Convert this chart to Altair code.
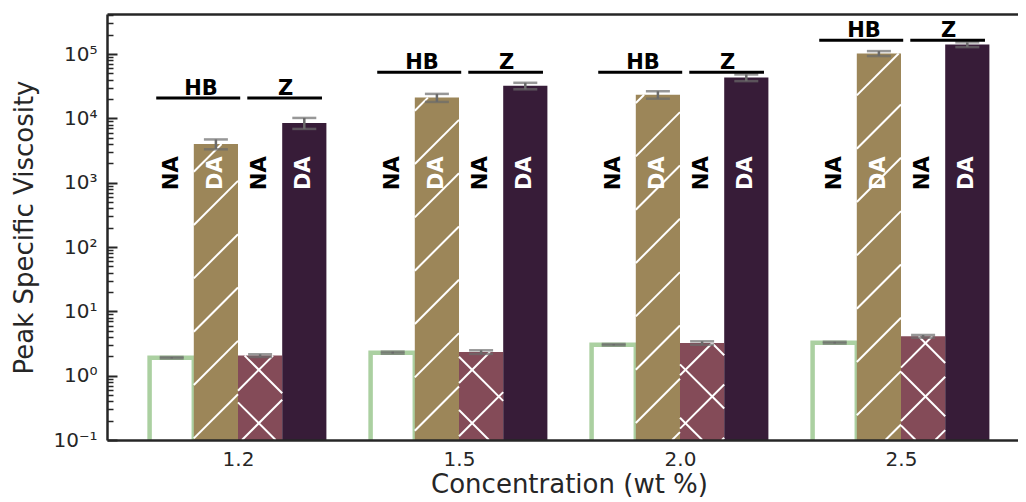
import json
import math
import numpy as np
import pandas as pd
import altair as alt

# ---------------- data ----------------
concentrations = ["1.2", "1.5", "2.0", "2.5"]
series = ["HB NA", "HB DA", "Z NA", "Z DA"]
bar_labels = ["NA", "DA", "NA", "DA"]

hb_na = [1.9, 2.28, 3.03, 3.26]
hb_na_err = [0.05, 0.08, 0.08, 0.1]
hb_da = [4000, 21000, 23300, 102000]
hb_da_err = [700, 3000, 3100, 9000]
z_na = [2.05, 2.33, 3.22, 4.09]
z_na_err = [0.1, 0.15, 0.2, 0.2]
z_da = [8500, 32000, 43000, 140000]
z_da_err = [1650, 3700, 5100, 12000]

bracket_names = ["HB", "Z"]
bracket_heights = [20700, 52000, 52000, 163000]
label_height = 1400

y_tick_values = [0.1, 1, 10, 100, 1000, 10000, 100000]
y_tick_labels = ["10⁻¹", "10⁰", "10¹", "10²", "10³", "10⁴", "10⁵"]
x_title = "Concentration (wt %)"
y_title = "Peak Specific Viscosity"

# ---------------- layout / style ----------------
FONT = "DejaVu Sans"
TXT = "#262626"
SPINE = "#262626"
GREEN = "#abd0a1"
TAN = "#9c8659"
MAROON = "#844b58"
PURPLE = "#371c38"
ERR = "#6b6b6b"

W, H = 911, 426
STEP_PX = 221.0
X_MIN = -131.0 / STEP_PX
X_MAX = X_MIN + W / STEP_PX
DEC_PX = 64.33
Y_MIN = 0.1
Y_MAX = Y_MIN * 10 ** (H / DEC_PX)
BAR_BASE = Y_MIN / 10  # bars continue below the axis (clipped), as in the reference
BAR_W = 0.2
HATCH_SP = 53.33

values_by_series = [hb_na, hb_da, z_na, z_da]
errs_by_series = [hb_na_err, hb_da_err, z_na_err, z_da_err]

rows = []
for i, c in enumerate(concentrations):
    for j, s in enumerate(series):
        pos = i + (j - 1.5) * BAR_W
        v = values_by_series[j][i]
        e = errs_by_series[j][i]
        rows.append(dict(conc=c, series=s, label=bar_labels[j], pos=pos,
                         x1=pos - BAR_W / 2, x2=pos + BAR_W / 2,
                         value=v, lo=v - e, hi=v + e, label_y=label_height))
bars = pd.DataFrame(rows)

caps = pd.concat([bars.assign(cap=bars["lo"]), bars.assign(cap=bars["hi"])])


# pixel <-> data helpers for the hatch pattern
def px_x(u):
    return (u - X_MIN) / (X_MAX - X_MIN) * W


def ux(px):
    return X_MIN + px / W * (X_MAX - X_MIN)


def px_y(v):
    return H - (math.log10(v) - math.log10(Y_MIN)) * DEC_PX


def vy(py):
    return 10 ** (math.log10(Y_MIN) + (H - py) / DEC_PX)


def hatch(df, phase, direction):
    out = []
    for _, r in df.iterrows():
        xl, xr = px_x(r.x1), px_x(r.x2)
        yt = px_y(r.value)
        if direction == "/":
            kmin = math.floor((xl + yt - phase) / HATCH_SP) - 1
            kmax = math.ceil((xr + H - phase) / HATCH_SP) + 1
            for k in range(kmin, kmax + 1):
                c = phase + k * HATCH_SP
                a, b = max(xl, c - H), min(xr, c - yt)
                if b - a > 0.8:
                    out.append(dict(hx=ux(a), hx2=ux(b), hy=vy(c - a), hy2=vy(c - b)))
        else:
            kmin = math.floor((xl - H - phase) / HATCH_SP) - 1
            kmax = math.ceil((xr - yt - phase) / HATCH_SP) + 1
            for k in range(kmin, kmax + 1):
                c = phase + k * HATCH_SP
                a, b = max(xl, c + yt), min(xr, c + H)
                if b - a > 0.8:
                    out.append(dict(hx=ux(a), hx2=ux(b), hy=vy(a - c), hy2=vy(b - c)))
    return out


hatch_rows = (hatch(bars[bars.series == "HB DA"], 31.2, "/")
              + hatch(bars[bars.series == "Z NA"], 27.7, "/")
              + hatch(bars[bars.series == "Z NA"], 9.3, "\\"))
hatch_df = pd.DataFrame(hatch_rows)

brow = []
for i, c in enumerate(concentrations):
    brow.append(dict(name=bracket_names[0], bx1=i - 0.37, bx2=i + 0.01, tx=i - 0.167, by=bracket_heights[i]))
    brow.append(dict(name=bracket_names[1], bx1=i + 0.042, bx2=i + 0.38, tx=i + 0.215, by=bracket_heights[i]))
brackets = pd.DataFrame(brow)

minor_values = [k * 10 ** e for e in range(-1, 6) for k in range(2, 10) if k * 10 ** e <= Y_MAX]

xs = alt.Scale(domain=[X_MIN, X_MAX], nice=False, zero=False)
ys = alt.Scale(type="log", domain=[Y_MIN, Y_MAX], nice=False)

x_bottom = alt.Axis(
    orient="bottom", values=[0, 1, 2, 3],
    labelExpr=json.dumps(concentrations) + "[round(datum.value)]",
    ticks=False, tickSize=0, domain=True, domainColor=SPINE, domainWidth=2.5,
    labelFont=FONT, labelFontSize=20, labelColor=TXT, labelPadding=25,
    labelBaseline="alphabetic", labelFlush=False, labelOverlap=False,
    title=x_title, titleFont=FONT, titleFontSize=26, titleFontWeight="normal",
    titleColor=TXT, titleX=462, titleY=52, titleAlign="center", titleBaseline="alphabetic",
    grid=False, zindex=1)
x_top = alt.Axis(orient="top", labels=False, ticks=False, domain=True, domainColor=SPINE,
                 domainWidth=2.5, title=None, grid=False, zindex=1)
y_left = alt.Axis(
    orient="left", values=y_tick_values,
    labelExpr=json.dumps(y_tick_labels, ensure_ascii=False) + "[round(log(datum.value)/LN10)+1]",
    ticks=False, tickSize=0, domain=True, domainColor=SPINE, domainWidth=2.5,
    labelFont=FONT, labelFontSize=20, labelColor=TXT, labelPadding=10,
    labelAlign="right", labelBaseline="middle", labelFlush=False, labelOverlap=False,
    title=y_title, titleFont=FONT, titleFontSize=26, titleFontWeight="normal",
    titleColor=TXT, titleX=-82.5, titleY=H / 2, titleAngle=270, titleAlign="center",
    titleBaseline="middle", grid=False, zindex=1)


def tick_axis(orient, offset, vals, size, width):
    return alt.Axis(orient=orient, offset=offset, values=vals, labels=False, domain=False,
                    ticks=True, tickSize=size, tickWidth=width, tickColor=SPINE,
                    grid=False, title=None, zindex=1)


inner_major = tick_axis("right", -W, y_tick_values, 10, 2)
inner_minor = tick_axis("right", -W, minor_values, 6, 1.5)

base = alt.Chart(bars)

white_bars = base.transform_filter("datum.series == 'HB NA'").mark_bar(
    fill="white", stroke=GREEN, strokeWidth=4.5, clip=True).encode(
    x=alt.X("x1:Q", scale=xs, axis=x_bottom), x2="x2:Q",
    y=alt.Y("value:Q", scale=ys, axis=y_left), y2=alt.datum(BAR_BASE))

color_bars = base.transform_filter("datum.series != 'HB NA'").mark_bar(clip=True).encode(
    x=alt.X("x1:Q", scale=xs, axis=x_top), x2="x2:Q",
    y=alt.Y("value:Q", scale=ys, axis=inner_major), y2=alt.datum(BAR_BASE),
    color=alt.Color("series:N", scale=alt.Scale(domain=series[1:], range=[TAN, MAROON, PURPLE]),
                    legend=None))

hatch_lines = alt.Chart(hatch_df).mark_rule(color="white", strokeWidth=2, clip=True).encode(
    x=alt.X("hx:Q", scale=xs, axis=None), x2="hx2:Q",
    y=alt.Y("hy:Q", scale=ys, axis=inner_minor), y2="hy2:Q")

err_rules = base.mark_rule(color=ERR, strokeWidth=2.5).encode(
    x=alt.X("pos:Q", scale=xs, axis=None),
    y=alt.Y("lo:Q", scale=ys, axis=None), y2="hi:Q")

err_caps = alt.Chart(caps).mark_tick(orient="horizontal", size=24, thickness=2.5, color=ERR).encode(
    x=alt.X("pos:Q", scale=xs, axis=None),
    y=alt.Y("cap:Q", scale=ys, axis=None))

na_text = base.transform_filter("datum.label == 'NA'").mark_text(
    angle=270, font=FONT, fontWeight="bold", fontSize=21, color="black",
    align="center", baseline="middle").encode(
    x=alt.X("pos:Q", scale=xs, axis=None), y=alt.Y("label_y:Q", scale=ys, axis=None), text="label:N")

da_text = base.transform_filter("datum.label == 'DA'").mark_text(
    angle=270, font=FONT, fontWeight="bold", fontSize=21, color="white",
    align="center", baseline="middle").encode(
    x=alt.X("pos:Q", scale=xs, axis=None), y=alt.Y("label_y:Q", scale=ys, axis=None), text="label:N")

bracket_lines = alt.Chart(brackets).mark_rule(color="black", strokeWidth=3).encode(
    x=alt.X("bx1:Q", scale=xs, axis=None), x2="bx2:Q",
    y=alt.Y("by:Q", scale=ys, axis=None))

bracket_text = alt.Chart(brackets).mark_text(
    font=FONT, fontWeight="bold", fontSize=21, color="black",
    align="center", baseline="alphabetic", dy=-3).encode(
    x=alt.X("tx:Q", scale=xs, axis=None), y=alt.Y("by:Q", scale=ys, axis=None), text="name:N")

chart = alt.layer(
    white_bars, color_bars, hatch_lines, err_rules, err_caps,
    na_text, da_text, bracket_lines, bracket_text
).resolve_axis(x="independent", y="independent").properties(
    width=W, height=H,
    autosize=alt.AutoSizeParams(type="none"),
    padding={"left": 99, "top": 6, "right": 0, "bottom": 62},
    background="white",
).configure_view(stroke=None)

chart.save("out.html", embed_options={"renderer": "svg", "actions": False})
